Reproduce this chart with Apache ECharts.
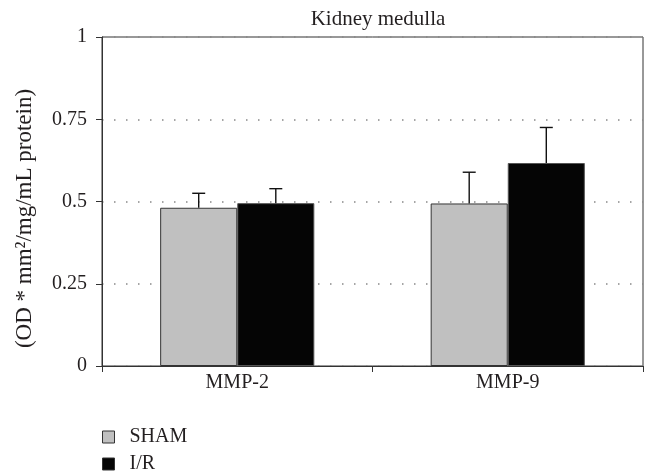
<!DOCTYPE html>
<html>
<head>
<meta charset="utf-8">
<script src="https://cdn.jsdelivr.net/npm/echarts@6/dist/echarts.min.js"></script>
<style>
  html, body { margin: 0; padding: 0; background: #fff; }
  #chart { width: 647px; height: 476px; }
</style>
</head>
<body>
<div id="chart"></div>
<script>
// Kidney medulla: MMP-2 / MMP-9 activity, SHAM vs I/R (mean + upper error)
const categories = ['MMP-2', 'MMP-9'];
const shamMean = [0.481, 0.494];
const shamErr = [0.044, 0.095];
const irMean = [0.495, 0.617];
const irErr = [0.044, 0.108];
const yTicks = [0, 0.25, 0.5, 0.75, 1];

const FONT = '"Liberation Serif", "DejaVu Serif", serif';
const TEXT = '#231f20';
const CAT_GAP = 0.43; // fraction of category band left empty
const SHAM_FILL = '#c0c0c0';
const IR_FILL = '#050505';

// Error whisker: vertical line from bar top to mean+err, with a small cap.
function errorSeries(means, errs, side) {
  return {
    type: 'custom',
    silent: true,
    z: 5,
    data: means.map((m, i) => [i, m, m + errs[i]]),
    renderItem: function (params, api) {
      const band = api.size([1, 0])[0];
      const barW = band * (1 - CAT_GAP) / 2;
      const base = api.coord([api.value(0), api.value(1)]);
      const top = api.coord([api.value(0), api.value(2)]);
      const x = base[0] + side * barW / 2;
      const cap = 6.5;
      const style = { stroke: '#111', lineWidth: 1.4 };
      return {
        type: 'group',
        children: [
          { type: 'line', shape: { x1: x, y1: base[1], x2: x, y2: top[1] }, style: style },
          { type: 'line', shape: { x1: x - cap, y1: top[1], x2: x + cap, y2: top[1] }, style: style }
        ]
      };
    }
  };
}

// One legend block per series so the two rows sit exactly where wanted.
function legendRow(name, fill, top) {
  return {
    orient: 'vertical',
    left: 102, top: top,
    padding: 0,
    itemWidth: 12, itemHeight: 12,
    icon: 'rect',
    selectedMode: false,
    textStyle: { fontFamily: FONT, fontSize: 20, color: TEXT, padding: [0, 0, 0, 10] },
    data: [{ name: name, itemStyle: { color: fill, borderColor: '#333', borderWidth: 1 } }]
  };
}

const chart = echarts.init(document.getElementById('chart'), null, { renderer: 'canvas' });
chart.setOption({
  animation: false,
  backgroundColor: '#fff',
  textStyle: { fontFamily: FONT, color: TEXT },
  title: {
    text: 'Kidney medulla',
    left: 373, top: 4, textAlign: 'center',
    textStyle: { fontFamily: FONT, fontSize: 21, fontWeight: 'normal', color: TEXT }
  },
  grid: {
    left: 102, right: 4, top: 37, bottom: 110,
    show: true, borderColor: '#333', borderWidth: 1, backgroundColor: 'transparent'
  },
  legend: [
    legendRow('SHAM', SHAM_FILL, 427),
    legendRow('I/R', IR_FILL, 454)
  ],
  xAxis: {
    type: 'category',
    data: categories,
    boundaryGap: true,
    axisLine: { lineStyle: { color: '#333', width: 1 } },
    axisTick: { show: true, inside: false, length: 6, lineStyle: { color: '#333' } },
    axisLabel: { fontFamily: FONT, fontSize: 20, color: TEXT, margin: 7 },
    splitLine: { show: false }
  },
  yAxis: {
    type: 'value',
    min: 0, max: 1, interval: 0.25,
    name: '(OD * mm²/mg/mL protein)',
    nameLocation: 'middle',
    nameGap: 66,
    nameTextStyle: { fontFamily: FONT, fontSize: 23, color: TEXT, padding: [0, 34, 0, 0] },
    axisLine: { show: true, lineStyle: { color: '#333', width: 1 } },
    axisTick: { show: true, inside: false, length: 6, lineStyle: { color: '#333' } },
    axisLabel: {
      fontFamily: FONT, fontSize: 20, color: TEXT, margin: 15,
      formatter: v => yTicks.includes(v) ? String(v) : ''
    },
    splitLine: {
      show: true,
      lineStyle: { color: '#888', width: 1.5, type: [1.5, 10.5] }
    }
  },
  series: [
    {
      name: 'SHAM', type: 'bar', data: shamMean,
      barGap: '0%', barCategoryGap: (CAT_GAP * 100) + '%',
      itemStyle: { color: SHAM_FILL, borderColor: '#333', borderWidth: 1 }
    },
    {
      name: 'I/R', type: 'bar', data: irMean,
      barGap: '0%', barCategoryGap: (CAT_GAP * 100) + '%',
      itemStyle: { color: IR_FILL, borderColor: '#555', borderWidth: 1 }
    },
    errorSeries(shamMean, shamErr, -1),
    errorSeries(irMean, irErr, 1)
  ]
});
</script>
</body>
</html>
